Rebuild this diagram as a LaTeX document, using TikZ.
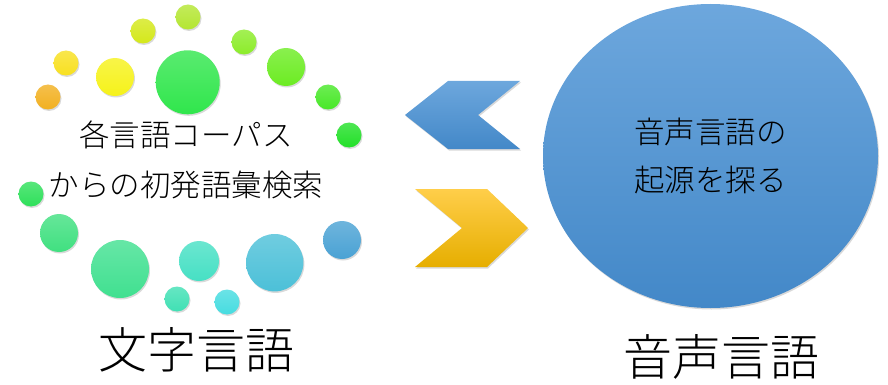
\documentclass[tikz,border=0pt]{standalone}
\usepackage{fontspec}
\setmainfont{Noto Sans CJK JP}[UprightFont={* Light}]
\usetikzlibrary{shapes, shadows, positioning}

\definecolor{blueTop}{HTML}{6DA7DD}
\definecolor{blueBot}{HTML}{4388C8}
\definecolor{yellowTop}{HTML}{FFCE4A}
\definecolor{yellowBot}{HTML}{E6AE00}

\begin{document}
\begin{tikzpicture}[x=1pt, y=-1pt,
    shade/.style={drop shadow={shadow xshift=1pt, shadow yshift=-1.5pt, opacity=0.3}},
    dot/.style={circle, inner sep=0pt, shade},
    label/.style={font=\fontsize{49}{50}\selectfont}]
  \useasboundingbox (0,0) rectangle (888,385);

  % Dots
  \foreach \n/\x/\y/\r/\c in {1/188/17/12.5/B4E632, 2/143/31/12.5/D4E81A,
      3/244/42/12.5/8CEC2A, 4/66/63/12.5/F8E020, 5/115/77/19/F6F21A,
      6/187.7/82.3/32/30E64C, 7/286/67/19/6CEC22, 8/48/97/12.5/F2B020,
      9/328/97/12.5/48E828, 10/349/135/12.5/22E028, 11/31/194/12.5/2EE05A,
      12/59/233/19/40E080, 13/120/269/29/40E090, 14/199/261/20/46E0C4,
      15/274.7/262.7/28.7/4CC0D8, 16/342/240/19/4AA2D4,
      17/177/299/12.5/40E0B4, 18/227/302/12.5/46DCE0} {
    \definecolor{dotc}{HTML}{\c}
    \node[dot, minimum size=2*\r, top color=dotc!80!white, bottom color=dotc] (dot\n) at (\x,\y) {};
  }

  % Nodes
  \node[align=center, font=\fontsize{30.5}{50}\selectfont] (corpus) at (186,160)
    {各言語コーパス\\からの初発語彙検索};
  \node[draw=none, ellipse, inner sep=0pt, minimum width=335, minimum height=304,
    top color=blueTop, bottom color=blueBot, shade, align=center,
    font=\fontsize{30.5}{48}\selectfont] (origin) at (710.5,156) {音声言語の\\起源を探る};

  % Chevrons
  \path[shade, top color=blueTop, bottom color=blueBot]
    (405,115) -- (448,81) -- (520,81) -- (478,115) -- (520,149) -- (448,149) -- cycle;
  \path[shade, top color=yellowTop, bottom color=yellowBot]
    (415,189) -- (487,189) -- (528,228) -- (487,267) -- (415,267) -- (462,228) -- cycle;

  % Labels
  \node[label] (written) at (196,350) {文字言語};
  \node[label] (spoken) at (721,357) {音声言語};
\end{tikzpicture}
\end{document}
